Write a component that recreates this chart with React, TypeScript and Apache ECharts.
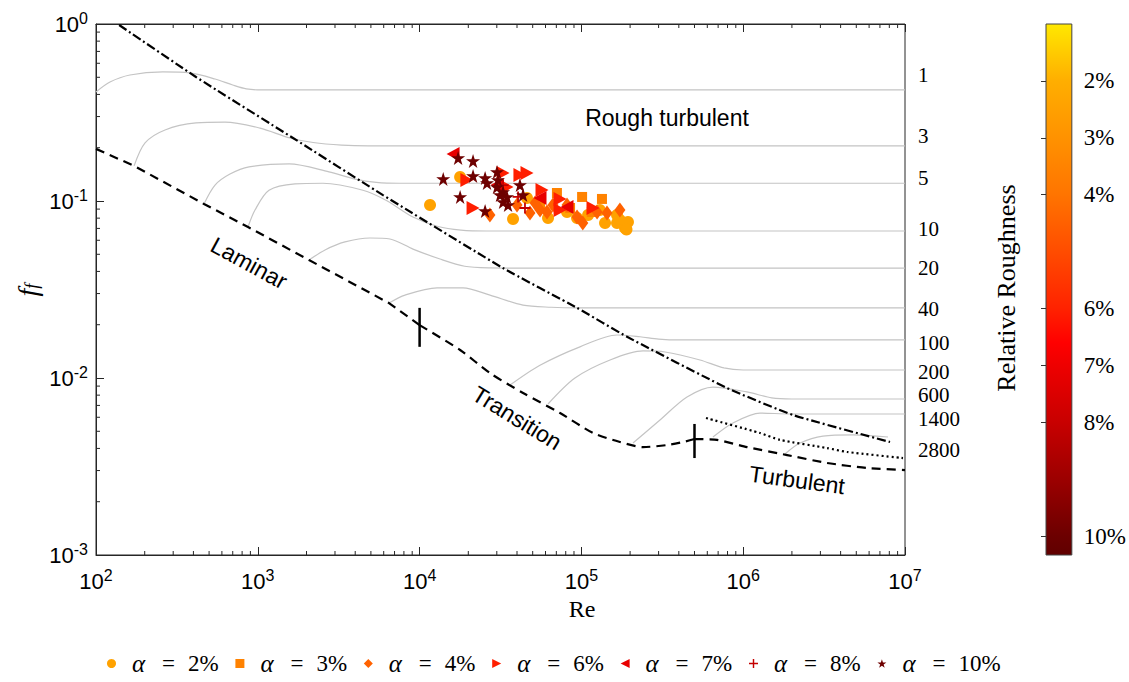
import React, { useEffect, useRef } from "react";
import * as echarts from "echarts";

const SERIF = "'Liberation Serif', 'DejaVu Serif', serif";
const SANS = "'Liberation Sans', Arial, sans-serif";
const AX = "#262626";

const X_MIN = 1e2;
const X_MAX = 1e7;
const Y_MIN = 1e-3;
const Y_MAX = 1;
const xDecades = [1e2, 1e3, 1e4, 1e5, 1e6];
const yDecades = [1e-3, 1e-2, 1e-1];
const minorMultipliers = [2, 3, 4, 5, 6, 7, 8, 9];

// main reference lines
const laminar = [[100, 0.197], [172, 0.158], [465, 0.0962], [870, 0.0713], [2072, 0.0464], [6471, 0.0265], [1e4, 0.0199]];
const transition = [[1e4, 0.0199], [1.78e4, 0.0144], [2.72e4, 0.01067], [4.36e4, 0.00823], [7.38e4, 0.00634], [1.18e5, 0.00489], [1.73e5, 0.00435], [2.4e5, 0.00407], [3.38e5, 0.00418], [4.25e5, 0.00435], [5e5, 0.00452]];
const turbulent = [[5e5, 0.00452], [6.89e5, 0.00447], [1.055e6, 0.00407], [1.87e6, 0.00367], [3.3e6, 0.00331], [5.82e6, 0.0031], [1e7, 0.00302]];
const dotted = [[5.89e5, 0.00594], [1.27e6, 0.00489], [1.69e6, 0.00447], [3.3e6, 0.00402], [4.39e6, 0.00382], [9.72e6, 0.00353]];
const dashDot = [[139, 0.987], [415, 0.502], [1650, 0.227], [5940, 0.108], [32750, 0.0418], [93970, 0.0249], [191400, 0.0171], [794300, 0.00878], [2.03e6, 0.00618], [8.08e6, 0.00435]];
const markerA = [[1e4, 0.0249], [1e4, 0.015]];
const markerB = [[5e5, 0.0055], [5e5, 0.00353]];

// rough pipe curves
const rr1 = [[100, 0.413], [122, 0.47], [162, 0.515], [259, 0.536], [381, 0.529], [544, 0.489], [700, 0.452], [850, 0.430], [1050, 0.424], [1600, 0.424], [1e7, 0.424]];
const rr3 = [[172, 0.158], [201, 0.213], [267, 0.252], [415, 0.276], [627, 0.279], [1032, 0.258], [1581, 0.227], [2200, 0.214], [3300, 0.207], [4800, 0.205], [8000, 0.205], [1e7, 0.205]];
const rr5 = [[465, 0.0962], [544, 0.123], [673, 0.142], [883, 0.156], [1560, 0.162], [2754, 0.146], [4000, 0.133], [5400, 0.1275], [7500, 0.126], [12000, 0.126], [1e7, 0.126]];
const rr10 = [[870, 0.0713], [961, 0.0889], [1173, 0.115], [1698, 0.125], [2529, 0.126], [4467, 0.115], [6198, 0.101], [9101, 0.0812], [13000, 0.0718], [18000, 0.0685], [26000, 0.0677], [40000, 0.0677], [1e7, 0.0677]];
const rr20 = [[2072, 0.0464], [2603, 0.0529], [3459, 0.0587], [4934, 0.0618], [6561, 0.061], [9101, 0.0535], [13370, 0.047], [19000, 0.0428], [27000, 0.0419], [40000, 0.0418], [1e7, 0.0418]];
const rr40 = [[6471, 0.0265], [8128, 0.0294], [12820, 0.0323], [18540, 0.0323], [27230, 0.0294], [43550, 0.0258], [65000, 0.0251], [95000, 0.0249], [1.4e5, 0.0249], [1e7, 0.0249]];
const rr100 = [[36220, 0.00912], [55460, 0.0118], [97990, 0.015], [166000, 0.0175], [230200, 0.0171], [300000, 0.0166], [4e5, 0.0164], [6e5, 0.0164], [1e7, 0.0164]];
const rr200 = [[62180, 0.00713], [91250, 0.01], [150300, 0.01264], [240400, 0.01422], [328600, 0.01403], [540800, 0.01264], [760000, 0.0114], [1.0e6, 0.0111], [1.5e6, 0.0111], [1e7, 0.0111]];
const rr600 = [[208400, 0.00429], [306000, 0.00579], [449500, 0.00781], [650300, 0.00889], [1.055e6, 0.00834], [1.5e6, 0.00772], [2.0e6, 0.00761], [3e6, 0.00761], [1e7, 0.00761]];
const rr1400 = [[650300, 0.00464], [865000, 0.00557], [1.27e6, 0.00634], [1.946e6, 0.00626], [3e6, 0.00626], [1e7, 0.00626]];
const rr2800 = [[1.812e6, 0.00372], [2.244e6, 0.00429], [3.112e6, 0.0047], [4.775e6, 0.00477], [7.85e6, 0.00464]];
const roughCurves = [rr1, rr3, rr5, rr10, rr20, rr40, rr100, rr200, rr600, rr1400, rr2800];
const roughLabels = ["1", "3", "5", "10", "20", "40", "100", "200", "600", "1400", "2800"];
const roughLabelY = [75, 136, 178, 229, 268, 309, 343, 372, 395, 419, 450];

// measurements (Re, f_f)
const alpha2 = [[1.16e4, 0.0949], [1.78e4, 0.1367], [3.78e4, 0.0791], [4.61e4, 0.104], [6.22e4, 0.0802], [8.15e4, 0.0867], [9.4e4, 0.0802], [1.1e5, 0.0834], [1.3e5, 0.0889], [1.4e5, 0.0751], [1.66e5, 0.0834], [1.66e5, 0.0751], [1.73e5, 0.0781], [1.86e5, 0.0704], [1.94e5, 0.0761], [1.9e5, 0.069]];
const alpha3 = [[7.06e4, 0.111], [1.01e5, 0.1054], [1.34e5, 0.1027], [5.55e4, 0.0949], [8.51e4, 0.0913], [1.16e5, 0.0867]];
const alpha4 = [[2.72e4, 0.0834], [4.0e4, 0.0949], [4.81e4, 0.0856], [5.17e4, 0.0975], [5.55e4, 0.0889], [6.13e4, 0.0867], [6.67e4, 0.0949], [8.15e4, 0.0949], [9.4e4, 0.0812], [1.02e5, 0.0751], [1.25e5, 0.0867], [1.44e5, 0.0856], [1.73e5, 0.0889]];
const alpha6 = [[1.96e4, 0.1315], [2.14e4, 0.0913], [3.28e4, 0.1439], [4.17e4, 0.1403], [4.61e4, 0.1439], [5.71e4, 0.1154], [7.38e4, 0.1027], [7.38e4, 0.0889], [1.18e5, 0.0913], [3.47e4, 0.12]];
const alpha7 = [[1.61e4, 0.1843], [8.15e4, 0.0925], [3.01e4, 0.1231], [5.55e4, 0.104]];
const alpha8 = [[4.48e4, 0.0913], [4.06e4, 0.1054], [3.28e4, 0.1231]];
const alpha10 = [[1.73e4, 0.175], [2.14e4, 0.1683], [1.4e4, 0.1332], [2.14e4, 0.1384], [2.54e4, 0.1349], [3.01e4, 0.1459], [3.05e4, 0.1315], [2.61e4, 0.1264], [1.78e4, 0.1054], [2.54e4, 0.0878], [3.01e4, 0.12], [3.28e4, 0.1124], [3.47e4, 0.1054], [3.52e4, 0.0949], [3.28e4, 0.0987], [4.17e4, 0.1231], [4.36e4, 0.1081], [3.14e4, 0.1081]];

const legendPct = ["2%", "3%", "4%", "6%", "7%", "8%", "10%"];
const seriesData = [alpha2, alpha3, alpha4, alpha6, alpha7, alpha8, alpha10];
const seriesColors = ["#FFA200", "#FF8200", "#FF6200", "#FF1E00", "#E80000", "#C40000", "#6E0000"];
const STAR = "path://M50,0 L61.8,35.4 L100,35.4 L69.1,57.3 L80.9,95.1 L50,72.4 L19.1,95.1 L30.9,57.3 L0,35.4 L38.2,35.4 Z";
const seriesSymbols = ["circle", "rect", "diamond", "path://M0,0 L10,5 L0,10 Z", "path://M10,0 L0,5 L10,10 Z", "path://M4.2,0 H5.8 V4.2 H10 V5.8 H5.8 V10 H4.2 V5.8 H0 V4.2 H4.2 Z", STAR];
const seriesSizes: any[] = [12, 10, [11, 15], [13, 14], [13, 14], 11, 14];

const cbTicks = [2, 3, 4, 6, 7, 8, 10];
const cbStops = [
  [0, "#FFE800"], [0.107, "#FFAE00"], [0.214, "#FF9200"], [0.322, "#FF7400"], [0.429, "#FF4C00"],
  [0.536, "#FF2200"], [0.6, "#FF0000"], [0.643, "#EE0000"], [0.75, "#C80000"], [0.857, "#9C0000"],
  [0.964, "#6C0000"], [1, "#600000"],
];

export default function App() {
  const ref = useRef<HTMLDivElement>(null);
  useEffect(() => {
    if (!ref.current) return;
    const chart = echarts.init(ref.current, undefined, { renderer: "svg" });
    const minorX = xDecades.flatMap((d) => minorMultipliers.map((m) => d * m));
    const minorY = yDecades.flatMap((d) => minorMultipliers.map((m) => d * m));
    const tickRich = {
      b: { fontFamily: SANS, fontSize: 22, lineHeight: 28, color: "#000" },
      e: { fontFamily: SANS, fontSize: 16, lineHeight: 14, verticalAlign: "top", color: "#000" },
    };
    const powFmt = (v: number) => `{b|10}{e|${Math.round(Math.log10(v))}}`;
    const line = (name: string, data: number[][], color: string, width: number, type: any, smooth: number, z = 3) => ({
      name, type: "line", data, xAxisIndex: 0, yAxisIndex: 0, symbol: "none", showSymbol: false, silent: true,
      smooth, lineStyle: { color, width, type }, z,
    });
    const series: any[] = [];
    roughCurves.forEach((c, i) => series.push(line("rough" + roughLabels[i], c, "#c4c4c4", 1.2, "solid", 0.3, 2)));
    series.push(line("laminar", laminar, "#000", 2.2, [9, 6], 0, 4));
    series.push(line("transition", transition, "#000", 2.2, [9, 6], 0.25, 4));
    series.push(line("turbulent", turbulent, "#000", 2.2, [9, 6], 0.2, 4));
    series.push(line("dotted", dotted, "#000", 2.2, [2, 3], 0.2, 4));
    series.push(line("dashdot", dashDot, "#000", 2.2, [9, 3, 2, 3], 0.15, 4));
    series.push(line("markA", markerA, "#000", 2.5, "solid", 0, 4));
    series.push(line("markB", markerB, "#000", 2.5, "solid", 0, 4));
    seriesData.forEach((d, i) => {
      series.push({
        name: `α = ${legendPct[i]}`, type: "scatter", data: d, xAxisIndex: 0, yAxisIndex: 0,
        symbol: seriesSymbols[i], symbolSize: seriesSizes[i], itemStyle: { color: seriesColors[i], opacity: 1 }, z: 5,
      });
    });
    series.push({
      type: "custom", coordinateSystem: "cartesian2d", xAxisIndex: 0, yAxisIndex: 0, silent: true, clip: false, z: 10,
      data: minorX.map((v) => [v, Y_MIN]),
      renderItem: (_p: any, api: any) => {
        const v = api.value(0);
        const b = api.coord([v, Y_MIN]);
        const t = api.coord([v, Y_MAX]);
        return {
          type: "group", children: [
            { type: "line", shape: { x1: b[0], y1: b[1], x2: b[0], y2: b[1] - 4 }, style: { stroke: AX, lineWidth: 1 } },
            { type: "line", shape: { x1: t[0], y1: t[1], x2: t[0], y2: t[1] + 4 }, style: { stroke: AX, lineWidth: 1 } },
          ],
        };
      },
    });
    series.push({
      type: "custom", coordinateSystem: "cartesian2d", xAxisIndex: 0, yAxisIndex: 0, silent: true, clip: false, z: 10,
      data: minorY.map((v) => [X_MIN, v]),
      renderItem: (_p: any, api: any) => {
        const v = api.value(1);
        const l = api.coord([X_MIN, v]);
        return { type: "line", shape: { x1: l[0], y1: l[1], x2: l[0] + 4, y2: l[1] }, style: { stroke: AX, lineWidth: 1 } };
      },
    });

    const texts: any[] = roughLabels.map((t, i) => ({
      type: "text", x: 918, y: roughLabelY[i], z: 20,
      style: { text: t, fontFamily: SERIF, fontSize: 21, fill: "#000", align: "left", verticalAlign: "middle" },
    }));
    const ann = (text: string, x: number, y: number, rot: number, font = SANS, size = 23) => ({
      type: "text", x, y, rotation: rot, z: 20,
      style: { text, fontFamily: font, fontSize: size, fill: "#000", align: "center", verticalAlign: "middle" },
    });
    texts.push(ann("Rough turbulent", 667, 118, 0));
    texts.push(ann("Laminar", 249, 263, -0.5));
    texts.push(ann("Transition", 517, 418, -0.55));
    texts.push(ann("Turbulent", 797, 480, -0.135));
    texts.push(ann("Re", 582, 609, 0, SERIF, 24));
    texts.push(ann("Relative Roughness", 1006, 288, Math.PI / 2, SERIF, 26));
    texts.push({
      type: "text", x: 27, y: 290, rotation: Math.PI / 2, z: 20,
      style: {
        text: "{a|f}{b|f}", align: "center", verticalAlign: "middle", fill: "#000",
        rich: {
          a: { fontFamily: SERIF, fontStyle: "italic", fontSize: 28 },
          b: { fontFamily: SERIF, fontStyle: "italic", fontSize: 18, verticalAlign: "bottom" },
        },
      },
    });

    const option: any = {
      animation: false,
      backgroundColor: "#fff",
      grid: [
        { left: 96, top: 24, width: 809, height: 531, show: true, borderColor: AX, borderWidth: 1, backgroundColor: "transparent" },
        {
          left: 1046, top: 24, width: 35, height: 531, show: true, borderColor: "#444", borderWidth: 1,
          backgroundColor: new echarts.graphic.LinearGradient(0, 0, 0, 1, cbStops.map(([o, c]) => ({ offset: o as number, color: c as string }))),
        },
      ],
      xAxis: [
        {
          type: "log", gridIndex: 0, min: X_MIN, max: X_MAX, logBase: 10, position: "bottom",
          axisLine: { show: true, lineStyle: { color: AX, width: 1 } },
          axisTick: { show: true, inside: true, length: 8, lineStyle: { color: AX } },
          axisLabel: { formatter: powFmt, margin: 12, rich: tickRich },
          splitLine: { show: false },
        },
        {
          type: "log", gridIndex: 0, min: X_MIN, max: X_MAX, logBase: 10, position: "top",
          axisLine: { show: true, lineStyle: { color: AX, width: 1 } },
          axisTick: { show: true, inside: true, length: 8, lineStyle: { color: AX } },
          axisLabel: { show: false },
          splitLine: { show: false },
        },
        { type: "value", gridIndex: 1, min: 0, max: 1, show: false },
      ],
      yAxis: [
        {
          type: "log", gridIndex: 0, min: Y_MIN, max: Y_MAX, logBase: 10,
          axisLine: { show: true, lineStyle: { color: AX, width: 1 } },
          axisTick: { show: true, inside: true, length: 8, lineStyle: { color: AX } },
          axisLabel: { formatter: powFmt, margin: 8, rich: tickRich },
          splitLine: { show: false },
        },
        {
          type: "value", gridIndex: 1, min: 1, max: 10.33, inverse: true, position: "right",
          axisLine: { show: false },
          splitLine: { show: false },
          axisTick: { show: true, inside: true, length: 5, customValues: cbTicks, lineStyle: { color: "#333" } },
          axisLabel: { customValues: cbTicks, formatter: (v: number) => `${v}%`, fontFamily: SERIF, fontSize: 23, color: "#000", margin: 12 },
        },
      ],
      legend: {
        left: 107, top: 651, padding: 0, itemWidth: 9, itemHeight: 9, itemGap: 0.4,
        data: legendPct.map((p) => `α = ${p}`),
        formatter: (name: string) => `{sp|}{i|α}{eq|=}{t|${name.split("= ")[1]}}`,
        textStyle: {
          fontFamily: SERIF, fontSize: 22, color: "#000",
          rich: {
            sp: { width: 11, lineHeight: 24 },
            i: { fontFamily: SERIF, fontStyle: "italic", fontSize: 25, width: 30, lineHeight: 24 },
            eq: { fontFamily: SERIF, fontSize: 23, width: 26, lineHeight: 24 },
            t: { fontFamily: SERIF, fontSize: 23, width: 47, lineHeight: 24 },
          },
        },
      },
      graphic: texts,
      series,
    };
    chart.setOption(option);
    return () => chart.dispose();
  }, []);
  return <div ref={ref} style={{ position: "absolute", left: 0, top: 0, width: 1129, height: 682, background: "#fff" }} />;
}
